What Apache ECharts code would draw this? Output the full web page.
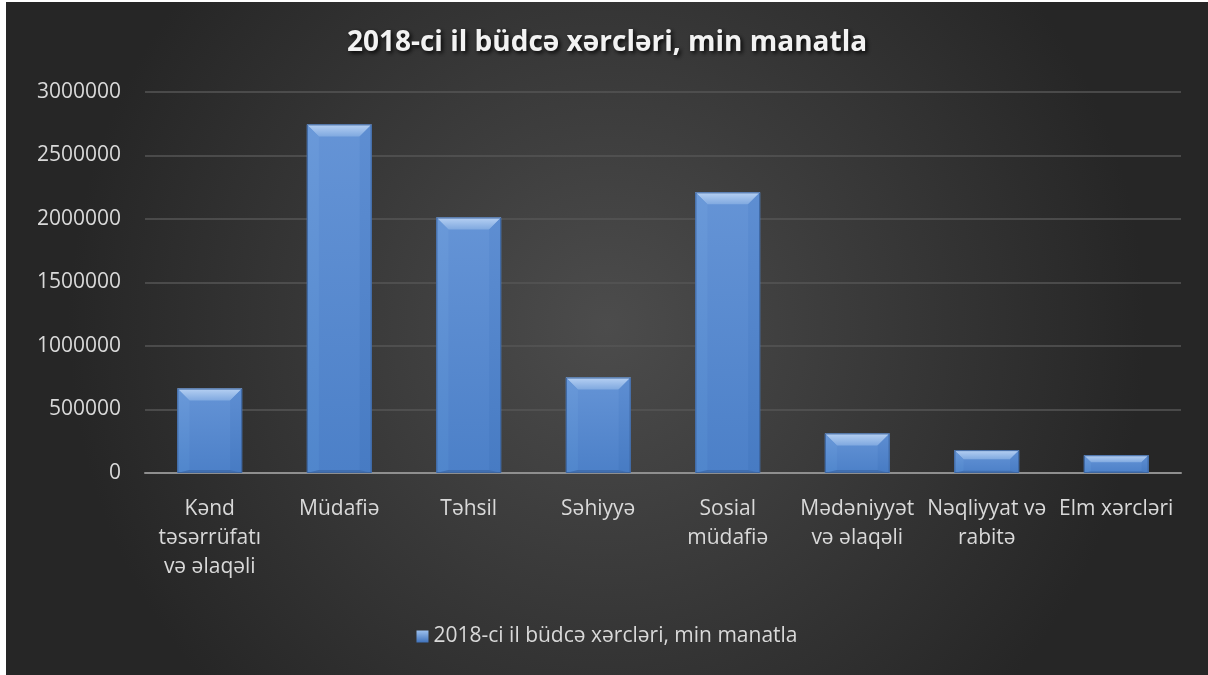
<!DOCTYPE html>
<html>
<head>
<meta charset="utf-8">
<script src="https://cdn.jsdelivr.net/npm/echarts@6/dist/echarts.min.js"></script>
<style>
  html, body { margin: 0; padding: 0; background: #ffffff; }
  #chart { position: absolute; left: 6px; top: 2px; width: 1202px; height: 673px; }
</style>
</head>
<body>
<div id="chart"></div>
<script>
const titleText = "2018-ci il büdcə xərcləri, min manatla";
const seriesName = "2018-ci il büdcə xərcləri, min manatla";
const categories = [
  "Kənd\ntəsərrüfatı\nvə əlaqəli",
  "Müdafiə",
  "Təhsil",
  "Səhiyyə",
  "Sosial\nmüdafiə",
  "Mədəniyyət\nvə əlaqəli",
  "Nəqliyyat və\nrabitə",
  "Elm xərcləri"
];
const values = [665000, 2745000, 2012000, 752000, 2210000, 312000, 180000, 140000];
const yTicks = { min: 0, max: 3000000, interval: 500000 };

const chart = echarts.init(document.getElementById('chart'));

function renderBar(params, api) {
  const idx = api.value(0);
  const v = api.value(1);
  const top = api.coord([idx, v]);
  const base = api.coord([idx, 0]);
  const w = api.size([1, 0])[0] * 0.5;
  const x0 = top[0] - w / 2, x1 = top[0] + w / 2;
  const y0 = top[1], y1 = base[1];
  const h = y1 - y0;
  const b = Math.min(12, h * 0.4);
  const bb = Math.min(3, h * 0.1);
  const sb = b;
  return {
    type: 'group',
    children: [
      { type: 'rect', shape: { x: x0, y: y0, width: w, height: h },
        style: { fill: new echarts.graphic.LinearGradient(0, 0, 0, 1, [
          { offset: 0, color: '#6594d6' }, { offset: 1, color: '#4c80c8' }]) } },
      { type: 'polygon', shape: { points: [[x0, y0], [x1, y0], [x1 - sb, y0 + b], [x0 + sb, y0 + b]] },
        style: { fill: new echarts.graphic.LinearGradient(0, 0, 0, 1, [
          { offset: 0, color: '#b7d1f3' }, { offset: 1, color: '#80a9e0' }]) } },
      { type: 'polygon', shape: { points: [[x0, y0], [x0 + sb, y0 + b], [x0 + sb, y1 - bb], [x0, y1]] },
        style: { fill: new echarts.graphic.LinearGradient(0, 0, 0, 1, [
          { offset: 0, color: '#6a99d9' }, { offset: 1, color: '#5086cc' }]) } },
      { type: 'polygon', shape: { points: [[x1, y0], [x1 - sb, y0 + b], [x1 - sb, y1 - bb], [x1, y1]] },
        style: { fill: new echarts.graphic.LinearGradient(0, 0, 0, 1, [
          { offset: 0, color: '#5e8ed2' }, { offset: 1, color: '#477bc3' }]) } },
      { type: 'polygon', shape: { points: [[x0, y1], [x0 + sb, y1 - bb], [x1 - sb, y1 - bb], [x1, y1]] },
        style: { fill: '#416fb0' } },
      { type: 'rect', shape: { x: x0 + 0.5, y: y0 + 0.5, width: w - 1, height: h - 1 },
        style: { fill: null, stroke: '#3d659f', lineWidth: 1 } }
    ]
  };
}

const option = {
  backgroundColor: new echarts.graphic.RadialGradient(0.5, 0.48, 0.8, [
    { offset: 0, color: '#4c4c4c' },
    { offset: 1, color: '#262626' }
  ]),
  title: {
    text: titleText,
    left: 'center',
    top: 22,
    textStyle: {
      fontFamily: 'Open Sans',
      fontWeight: 'bold',
      fontSize: 28,
      color: '#f2f2f2',
      textShadowColor: 'rgba(0,0,0,0.9)',
      textShadowBlur: 4,
      textShadowOffsetX: 2,
      textShadowOffsetY: 2
    }
  },
  legend: {
    data: [{ name: seriesName, icon: 'rect' }],
    left: 'center',
    top: 619,
    itemWidth: 12,
    itemHeight: 12,
    itemGap: 6,
    itemStyle: { color: new echarts.graphic.LinearGradient(0, 0, 0, 1, [
      { offset: 0, color: '#9cc0ee' }, { offset: 1, color: '#3f72bb' }]) },
    textStyle: { fontFamily: 'Open Sans', fontSize: 21, color: '#d9d9d9' }
  },
  grid: { left: 139, right: 27, top: 90, bottom: 202, containLabel: false },
  xAxis: {
    type: 'category',
    data: categories,
    axisLine: { lineStyle: { color: '#8f8f8f', width: 2 } },
    axisTick: { show: false },
    axisLabel: {
      interval: 0,
      margin: 22,
      fontFamily: 'Open Sans',
      fontSize: 21,
      lineHeight: 29,
      color: '#d9d9d9'
    }
  },
  yAxis: {
    type: 'value',
    min: yTicks.min,
    max: yTicks.max,
    interval: yTicks.interval,
    axisLine: { show: false },
    axisTick: { show: false },
    splitLine: { lineStyle: { color: '#565656', width: 1.5 } },
    axisLabel: {
      margin: 24,
      fontFamily: 'Open Sans',
      fontSize: 21,
      color: '#d9d9d9',
      formatter: (v) => String(v)
    }
  },
  series: [{
    name: seriesName,
    type: 'custom',
    renderItem: renderBar,
    itemStyle: { color: '#5a8bd0' },
    encode: { x: 0, y: 1 },
    data: values.map((v, i) => [i, v])
  }]
};
chart.setOption(option);
</script>
</body>
</html>
